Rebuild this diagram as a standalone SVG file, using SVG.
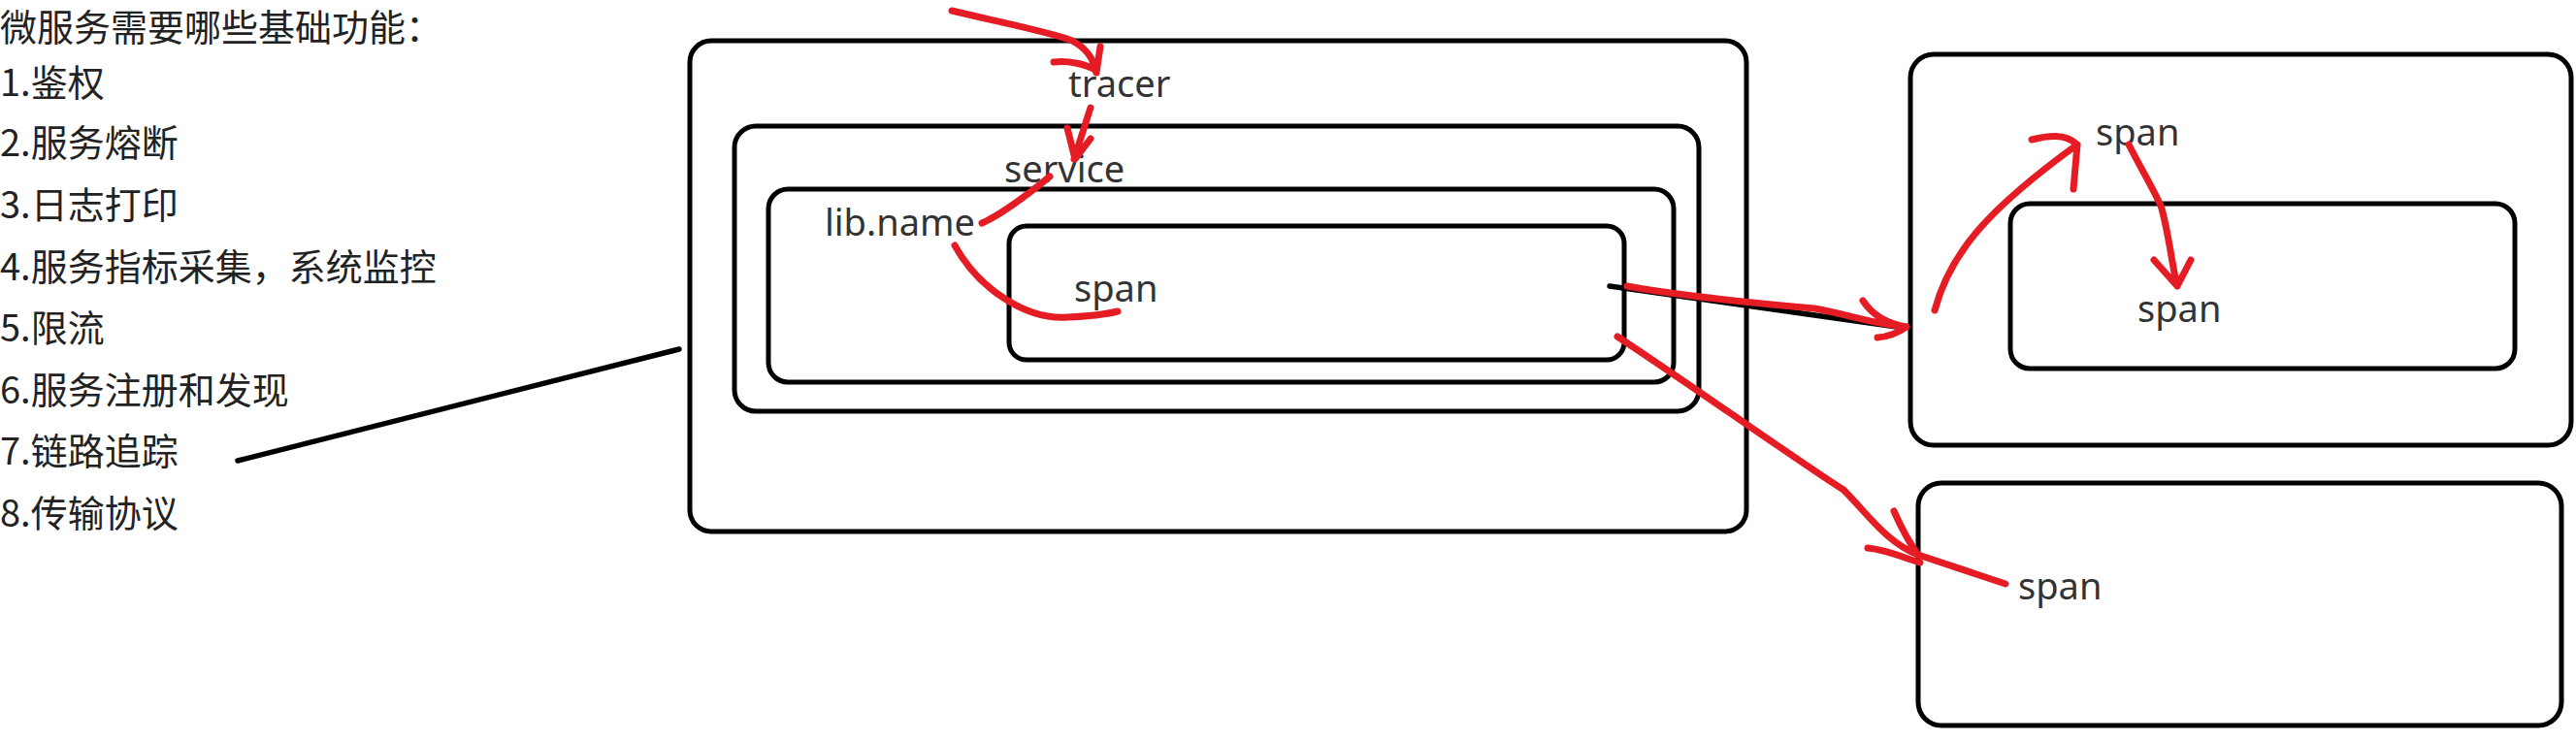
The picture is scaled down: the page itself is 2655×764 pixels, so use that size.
<svg xmlns="http://www.w3.org/2000/svg" width="2655" height="764" viewBox="0 0 2655 764">
<style>
.box{fill:none;stroke:#000;stroke-width:5}
.lbl{font-family:"Noto Sans","Open Sans",sans-serif;font-size:38px;fill:#333}
.cn{font-family:"Noto Sans CJK SC","Noto Sans",sans-serif;font-size:38px;fill:#222}
.red{fill:none;stroke:#e51c24;stroke-width:7;stroke-linecap:round;stroke-linejoin:round}
.blk{fill:none;stroke:#000;stroke-width:5.5;stroke-linecap:round}
</style>
<rect width="2655" height="764" fill="#fff"/>
<g id="list">
<text class="cn" x="0" y="42">微服务需要哪些基础功能：</text>
<text class="cn" x="0" y="99">1.鉴权</text>
<text class="cn" x="0" y="161">2.服务熔断</text>
<text class="cn" x="0" y="225">3.日志打印</text>
<text class="cn" x="0" y="289">4.服务指标采集，系统监控</text>
<text class="cn" x="0" y="352">5.限流</text>
<text class="cn" x="0" y="416">6.服务注册和发现</text>
<text class="cn" x="0" y="479">7.链路追踪</text>
<text class="cn" x="0" y="543">8.传输协议</text>
</g>
<g id="tracer-box">
<rect class="box" x="711" y="42" width="1089" height="506" rx="22"/>
<text class="lbl" x="1101" y="100">tracer</text>
</g>
<g id="service-box">
<rect class="box" x="757" y="130" width="994" height="294" rx="22"/>
<text class="lbl" x="1035" y="188">service</text>
</g>
<g id="lib-box">
<rect class="box" x="792" y="195" width="933" height="199" rx="20"/>
<text class="lbl" x="850" y="243">lib.name</text>
</g>
<g id="span-box">
<rect class="box" x="1040" y="233" width="634" height="138" rx="18"/>
<text class="lbl" x="1107" y="311">span</text>
</g>
<g id="remote-box">
<rect class="box" x="1969" y="56" width="681" height="403" rx="24"/>
<text class="lbl" x="2160" y="150">span</text>
</g>
<g id="remote-inner">
<rect class="box" x="2072" y="210" width="520" height="170" rx="20"/>
<text class="lbl" x="2203" y="332">span</text>
</g>
<g id="remote-box-2">
<rect class="box" x="1977" y="498" width="663" height="250" rx="24"/>
<text class="lbl" x="2080" y="618">span</text>
</g>
<g id="connectors">
<path class="blk" d="M245,475 L700,360"/>
<path class="blk" d="M1659,295 L1962,338"/>
<path class="red" d="M981,11 C1040,25 1090,35 1105,42 C1120,50 1127,60 1129,73 M1086,64 C1100,62 1118,66 1129,72 M1134,48 L1130,75"/>
<path class="red" d="M1124,111 L1107,164 M1100,132 L1108,164 L1124,143"/>
<path class="red" d="M1082,182 C1060,200 1030,222 1012,230"/>
<path class="red" d="M984,253 C1010,300 1060,330 1100,327 C1125,326 1140,324 1152,321"/>
<path class="red" d="M1677,295 C1720,303 1780,310 1870,318 C1900,323 1930,334 1965,337 M1920,310 C1930,325 1945,334 1965,337 M1935,348 C1948,347 1958,342 1965,337"/>
<path class="red" d="M1667,347 C1740,395 1860,480 1900,505 C1925,530 1945,560 1977,572 L2067,602 M1952,527 C1960,545 1968,560 1977,572 M1925,565 C1945,567 1962,575 1979,580"/>
<path class="red" d="M1994,320 C2010,260 2050,215 2141,149 M2094,144 C2110,140 2128,137 2141,149 L2137,195"/>
<path class="red" d="M2194,149 C2210,180 2225,205 2228,215 C2236,245 2238,270 2244,295 M2220,268 L2244,295 L2258,268"/>
</g>
</svg>
